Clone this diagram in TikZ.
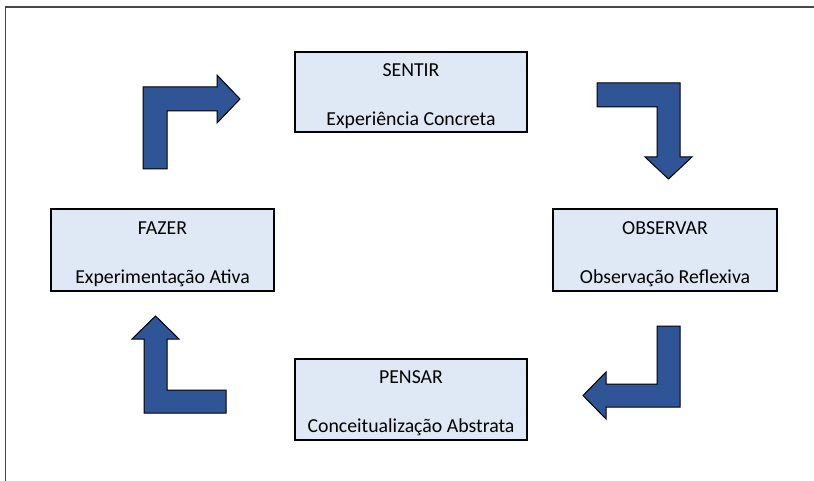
\documentclass[tikz,border=0pt]{standalone}
\usepackage{fontspec}
\setmainfont{Carlito}
\definecolor{boxfill}{RGB}{222,233,245}
\definecolor{arrowblue}{RGB}{47,85,151}
\definecolor{framegray}{RGB}{70,70,70}
\newcommand{\liftpad}{\rule{0pt}{21pt}}
\tikzset{
  stage/.style={draw=black, line width=1.3pt, fill=boxfill, inner sep=0pt,
    align=center, font=\fontsize{19.8}{24}\selectfont, text=black},
  bentarrow/.style={draw=black, line width=1pt, fill=arrowblue, line join=miter},
  framerule/.style={draw=framegray, line width=1.6pt}
}
\begin{document}
\begin{tikzpicture}[x=1pt,y=-1pt]
\useasboundingbox (0,0) rectangle (814,481);
\fill[white] (0,0) rectangle (814,481);
% frame
\coordinate (fb) at (5.5,481);
\coordinate (fc) at (5.5,7.3);
\coordinate (fr) at (814,7.3);
\draw[framerule] (fb) -- (fc) -- (fr);
% stages
\node[stage, minimum width=232pt, minimum height=80pt] (sentir) at (411,92)
  {\liftpad SENTIR\\[25pt]Experiência Concreta};
\node[stage, minimum width=224pt, minimum height=82pt] (observar) at (665,250)
  {\liftpad OBSERVAR\\[25pt]Observação Reflexiva};
\node[stage, minimum width=232pt, minimum height=81pt] (pensar) at (411,399.5)
  {\liftpad PENSAR\\[25pt]Conceitualização Abstrata};
\node[stage, minimum width=223pt, minimum height=82pt] (fazer) at (162.5,250)
  {\liftpad FAZER\\[25pt]Experimentação Ativa};
% bent block arrows
\draw[bentarrow] (143,169) -- (143,87) -- (217,87) -- (217,75) -- (240,99)
  -- (217,123) -- (217,111) -- (167,111) -- (167,169) -- cycle;
\draw[bentarrow] (597,83) -- (680,83) -- (680,157) -- (692,157) -- (668.5,179)
  -- (645,157) -- (657,157) -- (657,107) -- (597,107) -- cycle;
\draw[bentarrow] (657,326) -- (680,326) -- (680,407) -- (606,407) -- (606,419)
  -- (583,395.5) -- (606,372) -- (606,384) -- (657,384) -- cycle;
\draw[bentarrow] (226,413) -- (144,413) -- (144,339) -- (132,339) -- (155.5,316)
  -- (179,339) -- (167,339) -- (167,390) -- (226,390) -- cycle;
\end{tikzpicture}
\end{document}
